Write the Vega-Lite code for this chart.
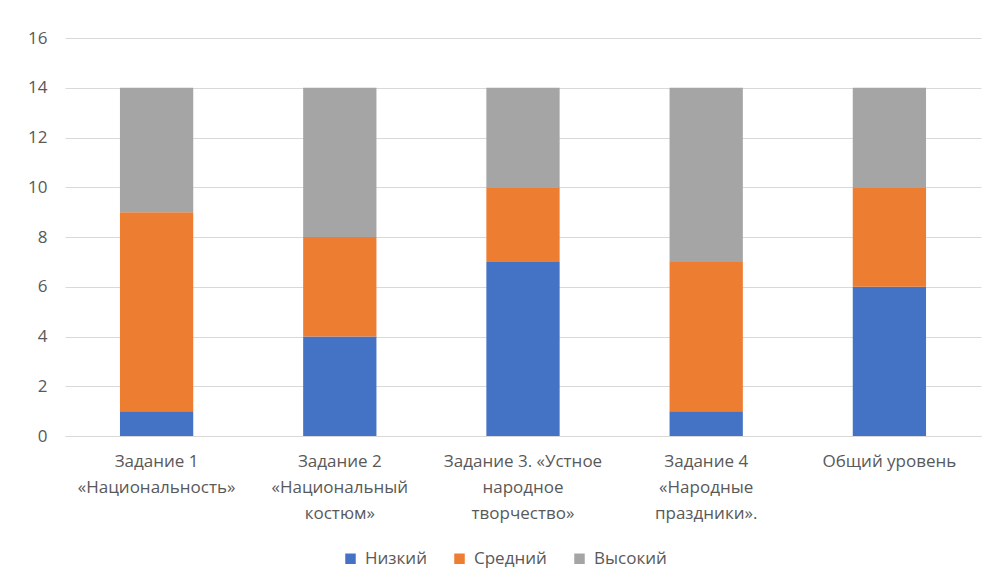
{
  "$schema": "https://vega.github.io/schema/vega-lite/v6.json",
  "width": 916,
  "height": 398,
  "autosize": {"type": "none"},
  "padding": {"left": 65, "top": 38, "right": 10, "bottom": 149},
  "background": "white",
  "data": {
    "values": [
      {"task": "Задание 1 «Национальность»", "level": "Низкий", "order": 1, "count": 1},
      {"task": "Задание 1 «Национальность»", "level": "Средний", "order": 2, "count": 8},
      {"task": "Задание 1 «Национальность»", "level": "Высокий", "order": 3, "count": 5},
      {"task": "Задание 2 «Национальный костюм»", "level": "Низкий", "order": 1, "count": 4},
      {"task": "Задание 2 «Национальный костюм»", "level": "Средний", "order": 2, "count": 4},
      {"task": "Задание 2 «Национальный костюм»", "level": "Высокий", "order": 3, "count": 6},
      {"task": "Задание 3. «Устное народное творчество»", "level": "Низкий", "order": 1, "count": 7},
      {"task": "Задание 3. «Устное народное творчество»", "level": "Средний", "order": 2, "count": 3},
      {"task": "Задание 3. «Устное народное творчество»", "level": "Высокий", "order": 3, "count": 4},
      {"task": "Задание 4 «Народные праздники».", "level": "Низкий", "order": 1, "count": 1},
      {"task": "Задание 4 «Народные праздники».", "level": "Средний", "order": 2, "count": 6},
      {"task": "Задание 4 «Народные праздники».", "level": "Высокий", "order": 3, "count": 7},
      {"task": "Общий уровень", "level": "Низкий", "order": 1, "count": 6},
      {"task": "Общий уровень", "level": "Средний", "order": 2, "count": 4},
      {"task": "Общий уровень", "level": "Высокий", "order": 3, "count": 4}
    ]
  },
  "mark": {"type": "bar"},
  "encoding": {
    "x": {
      "field": "task",
      "type": "nominal",
      "sort": null,
      "title": null,
      "scale": {"paddingInner": 0.6, "paddingOuter": 0.3},
      "axis": {
        "labelAngle": 0,
        "ticks": false,
        "domainColor": "#d9d9d9",
        "labelPadding": 17,
        "labelLineHeight": 26,
        "labelExpr": "{'Задание 1 «Национальность»': ['Задание 1', '«Национальность»'], 'Задание 2 «Национальный костюм»': ['Задание 2', '«Национальный', 'костюм»'], 'Задание 3. «Устное народное творчество»': ['Задание 3. «Устное', 'народное', 'творчество»'], 'Задание 4 «Народные праздники».': ['Задание 4', '«Народные', 'праздники».'], 'Общий уровень': ['Общий уровень']}[datum.label]"
      }
    },
    "y": {
      "field": "count",
      "type": "quantitative",
      "title": null,
      "scale": {"domain": [0, 16]},
      "axis": {
        "values": [0, 2, 4, 6, 8, 10, 12, 14, 16],
        "domain": false,
        "ticks": false,
        "tickSize": 0,
        "labelPadding": 18,
        "gridColor": "#d9d9d9"
      }
    },
    "color": {
      "field": "level",
      "type": "nominal",
      "sort": ["Низкий", "Средний", "Высокий"],
      "scale": {
        "domain": ["Низкий", "Средний", "Высокий"],
        "range": ["#4472c4", "#ed7d31", "#a5a5a5"]
      },
      "legend": {
        "title": null,
        "orient": "none",
        "direction": "horizontal",
        "legendX": 277,
        "legendY": 512,
        "symbolType": "square",
        "symbolSize": 110,
        "symbolStrokeWidth": 0,
        "labelOffset": 6,
        "columnPadding": 24
      }
    },
    "order": {"field": "order", "type": "quantitative"}
  },
  "config": {
    "font": "Open Sans",
    "view": {"stroke": null},
    "axis": {"labelFont": "Open Sans", "labelFontSize": 17, "labelColor": "#595959"},
    "legend": {"labelFont": "Open Sans", "labelFontSize": 17, "labelColor": "#595959"}
  }
}
